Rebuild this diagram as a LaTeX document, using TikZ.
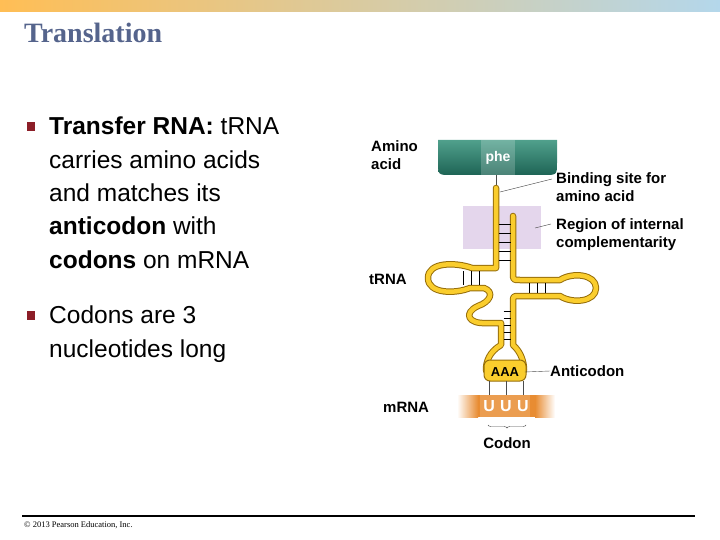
\documentclass[tikz,border=0pt]{standalone}
\usepackage{fontspec}
\setmainfont{Liberation Sans}
\newfontfamily\slidefont{Liberation Serif}
\usetikzlibrary{positioning}
\usetikzlibrary{decorations.pathreplacing}

\definecolor{titleblue}{RGB}{85,100,140}
\definecolor{bulletcol}{RGB}{140,30,40}
\definecolor{tubeedge}{RGB}{150,110,10}
\definecolor{tubefill}{RGB}{250,205,45}
\definecolor{lavender}{RGB}{228,214,236}
\definecolor{aminodark}{RGB}{30,100,85}
\definecolor{aminolight}{RGB}{80,160,140}
\definecolor{mrnaorange}{RGB}{232,140,50}

\tikzset{
  lbl/.style={font=\fontsize{15}{18}\selectfont\bfseries, align=left, inner sep=0pt},
  pointer/.style={draw=black!70, thin},
  rung/.style={black, line width=0.9pt},
  bodytext/.style={font=\fontsize{24.5}{33.3}\selectfont, align=left, inner sep=0pt, anchor=north west},
}

\begin{document}
\begin{tikzpicture}[x=1pt, y=-1pt]
  \useasboundingbox (0,0) rectangle (720,540);
  % header bar and title
  \shade[left color={rgb,255:red,255;green,190;blue,85}, right color={rgb,255:red,180;green,215;blue,235}] (0,0) rectangle (720,12);
  \node[anchor=base west, inner sep=0pt, text=titleblue, font=\slidefont\bfseries\fontsize{28}{32}\selectfont] (title) at (24,43) {Translation};

  % bullets
  \fill[bulletcol] (27,122) rectangle (35,131);
  \fill[bulletcol] (27,311) rectangle (35,320);
  \node[bodytext] (first) at (49,117) {\textbf{Transfer RNA:} tRNA\\carries amino acids\\and matches its\\\textbf{anticodon} with\\\textbf{codons} on mRNA};
  \node[bodytext] (second) at (49,306) {Codons are 3\\nucleotides long};

  % footer
  \draw[line width=2.5pt] (22,516) -- (695,516);
  \node[anchor=base west, inner sep=0pt, font=\slidefont\fontsize{8.5}{10}\selectfont] (copy) at (24,527) {\textcopyright{} 2013 Pearson Education, Inc.};

  % region of internal complementarity
  \fill[lavender] (463,206) rectangle (541,249);

  % amino acid block
  \shade[top color=aminolight, bottom color=aminodark] (438,140) -- (557,140) -- (557,162) .. controls (557,175) .. (544,175) -- (451,175) .. controls (438,175) .. (438,162) -- cycle;
  \fill[white, opacity=0.2] (481,140) rectangle (515,175);
  \node[font=\fontsize{14}{16}\selectfont\bfseries, text=white] (phe) at (498,158) {phe};
  \coordinate (stemtop) at (496,175);
  \coordinate (stembot) at (496,188);
  \draw[black!70] (stemtop) -- (stembot);

  % tRNA tube
  \foreach \w/\c in {6.5pt/tubeedge, 4.5pt/tubefill}
    \draw[line width=\w, \c, line join=round, line cap=round]
      (496,188) -- (496,268) -- (472,268)
      .. controls (455,262) and (428,262) .. (428,278)
      .. controls (428,294) and (455,294) .. (470,288) -- (484,288)
      .. controls (495,292) and (490,302) .. (478,306)
      .. controls (463,313) and (468,324) .. (486,323) -- (501,323) -- (501,345)
      .. controls (489,352) and (486,362) .. (486,370)
      .. controls (486,380) and (524,380) .. (524,370)
      .. controls (524,362) and (521,352) .. (513,345)
      -- (513,302) .. controls (513,296) .. (520,296) -- (560,296)
      .. controls (572,304) and (596,302) .. (596,288)
      .. controls (596,274) and (572,272) .. (560,280) -- (520,280)
      .. controls (513,280) .. (513,273) -- (513,216);
  \filldraw[fill=tubefill, draw=tubeedge, line width=1pt, rounded corners=6pt] (484,360) rectangle (526,381);
  \node[font=\fontsize{13}{15}\selectfont\bfseries] (aaa) at (505,372) {AAA};

  % base pairs
  \foreach \y in {224,233,242,251,260}
    \draw[rung] (498.5,\y) -- (510.5,\y);
  \foreach \x in {463,471,479}
    \draw[rung] (\x,271) -- (\x,285);
  \foreach \x in {529,537,545}
    \draw[rung] (\x,283) -- (\x,293);
  \foreach \y in {311,318,325,332,339}
    \draw[rung] (503.5,\y) -- (510.5,\y);

  % mRNA
  \shade[left color=white, right color=mrnaorange] (457,395) rectangle (478,417);
  \fill[mrnaorange] (478,395) rectangle (535,417);
  \shade[left color=mrnaorange, right color=white] (535,395) rectangle (555,417);
  \fill[white, opacity=0.15] (480,395) rectangle (530,417);
  \node[font=\fontsize{16}{18}\selectfont\bfseries, text=white] (uuu) at (506,406) {U\,\,U\,\,U};
  \foreach \x in {489,506,523}
    \draw[black!70] (\x,381) -- (\x,395);
  \draw[decorate, decoration={brace, amplitude=3pt}, black!70] (526,425) -- (488,425);

  % labels
  \node[lbl, anchor=north west] (amino) at (371,140) {Amino\\acid};
  \node[lbl, anchor=west] (trna) at (369,279) {tRNA};
  \node[lbl, anchor=west] (mrna) at (383,407) {mRNA};
  \node[lbl] (codon) at (507,443) {Codon};
  \node[lbl, anchor=west] (binding) at (556,187) {Binding site for\\amino acid};
  \node[lbl, anchor=west] (region) at (556,235) {Region of internal\\complementarity};
  \node[lbl, anchor=west] (anticodon) at (550,371) {Anticodon};
  \coordinate (bindpt) at (500,192);
  \coordinate (regionpt) at (535,228);
  \draw[pointer] (bindpt) -- (552,179);
  \draw[pointer] (regionpt) -- (551,224);
  \draw[pointer] (aaa.east) ++(2,0) -- (anticodon.west);
\end{tikzpicture}
\end{document}
